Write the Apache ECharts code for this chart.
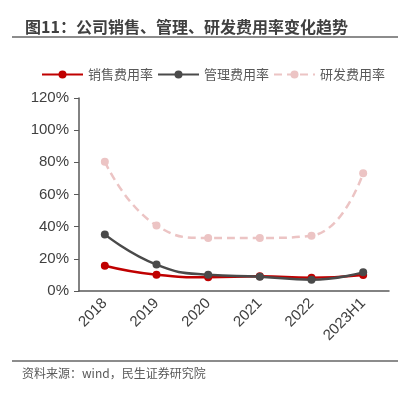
<!DOCTYPE html>
<html><head><meta charset="utf-8">
<script src="https://cdn.jsdelivr.net/npm/echarts@6/dist/echarts.min.js"></script>
<style>html,body{margin:0;padding:0;background:#fff}#c{width:412px;height:394px}</style>
</head><body><div id="c"></div>
<script>
const categories = ['2018','2019','2020','2021','2022','2023H1'];
const sales = [15.7, 10.1, 8.5, 9.1, 8.3, 10.0];
const admin = [35.2, 16.4, 10.1, 8.9, 7.0, 11.6];
const rnd = [80.4, 40.8, 33.0, 33.0, 34.4, 73.2];
const yTicks = [0, 20, 40, 60, 80, 100, 120];
const font = '"Noto Sans CJK SC", "Noto Sans", sans-serif';
const chart = echarts.init(document.getElementById('c'));
chart.setOption({
  animation: false,
  title: {
    text: '图11：公司销售、管理、研发费用率变化趋势',
    left: 20, top: 14,
    textStyle: {fontFamily: font, fontSize: 16, fontWeight: 'bold', color: '#404040'}
  },
  graphic: [
    {type: 'line', shape: {x1: 12, y1: 37, x2: 398, y2: 37}, style: {stroke: '#666', lineWidth: 1.5}},
    {type: 'line', shape: {x1: 12, y1: 361, x2: 398, y2: 361}, style: {stroke: '#666', lineWidth: 1.5}},
    {type: 'text', left: 22, top: 367, style: {text: '资料来源：wind，民生证券研究院', font: '12px ' + font, fill: '#595959'}}
  ],
  legend: {
    top: 63, left: 36, itemWidth: 41, itemHeight: 10, itemGap: 4,
    textStyle: {fontFamily: font, fontSize: 13, color: '#595959'},
    data: ['销售费用率', '管理费用率', '研发费用率']
  },
  grid: {left: 79, right: 23, top: 98, bottom: 103},
  xAxis: {
    type: 'category', data: categories, boundaryGap: true,
    axisLine: {lineStyle: {color: '#595959', width: 1.5}},
    axisTick: {lineStyle: {color: '#595959'}, length: 5},
    axisLabel: {rotate: 45, fontFamily: 'Liberation Sans, Arial, sans-serif', fontSize: 15, color: '#404040', margin: 10}
  },
  yAxis: {
    type: 'value', min: 0, max: 120, interval: 20,
    axisLine: {show: true, lineStyle: {color: '#595959', width: 1.5}},
    axisTick: {show: true, length: 5, inside: false, lineStyle: {color: '#595959'}},
    splitLine: {show: false},
    axisLabel: {formatter: v => v + '%', fontFamily: 'Liberation Sans, Arial, sans-serif', fontSize: 15, color: '#404040', margin: 10}
  },
  series: [
    {name: '销售费用率', type: 'line', data: sales, smooth: true, symbol: 'circle', symbolSize: 8,
     lineStyle: {color: '#c00000', width: 2.5}, itemStyle: {color: '#c00000'}, z: 3},
    {name: '管理费用率', type: 'line', data: admin, smooth: true, symbol: 'circle', symbolSize: 8,
     lineStyle: {color: '#4a4a4a', width: 2.5}, itemStyle: {color: '#4a4a4a'}, z: 4},
    {name: '研发费用率', type: 'line', data: rnd, smooth: true, symbol: 'circle', symbolSize: 8,
     lineStyle: {color: '#ecc4c4', width: 2.5, type: [8, 5]}, itemStyle: {color: '#ecc4c4'}, z: 2}
  ]
});
</script></body></html>
